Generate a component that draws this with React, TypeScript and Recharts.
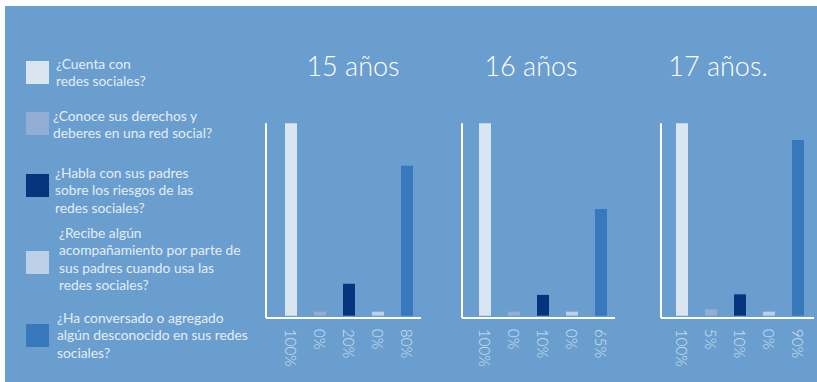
import React from 'react';
import { BarChart, Bar, XAxis, YAxis, Cell } from 'recharts';

const questions = [
  '¿Cuenta con redes sociales?',
  '¿Conoce sus derechos y deberes en una red social?',
  '¿Habla con sus padres sobre los riesgos de las redes sociales?',
  '¿Recibe algún acompañamiento por parte de sus padres cuando usa las redes sociales?',
  '¿Ha conversado o agregado algún desconocido en sus redes sociales?',
];
const legendLines = [
  ['¿Cuenta con', 'redes sociales?'],
  ['¿Conoce sus derechos y', 'deberes en una red social?'],
  ['¿Habla con sus padres', 'sobre los riesgos de las', 'redes sociales?'],
  ['¿Recibe algún', 'acompañamiento por parte de', 'sus padres cuando usa las', 'redes sociales?'],
  ['¿Ha conversado o agregado', 'algún desconocido en sus redes', 'sociales?'],
];
const colors = ['#D9E6F2', '#92AED4', '#04357D', '#BCD0E8', '#3779BC'];

const panelTitles = ['15 años', '16 años', '17 años.'];
const labels15 = ['100%', '0%', '20%', '0%', '80%'];
const labels16 = ['100%', '0%', '10%', '0%', '65%'];
const labels17 = ['100%', '5%', '10%', '0%', '90%'];
// bar heights
const values15 = [100, 2.1, 16.6, 2.1, 78];
const values16 = [100, 2.1, 10.8, 2.1, 55.5];
const values17 = [100, 3.3, 11.1, 2.1, 91.3];

const BG = '#6A9ECE';
const TEXT = '#E4EDF7';
const FONT = 'Lato, "Open Sans", sans-serif';

const makeTick = (labels: string[]) => (props: any) => {
  const { x, y, payload } = props;
  const ty = y + 11;
  return (
    <text
      x={x}
      y={ty}
      transform={`rotate(90 ${x} ${ty})`}
      textAnchor="start"
      dominantBaseline="central"
      fill="#D6E3F1"
      fontFamily={FONT}
      fontWeight={300}
      fontSize={15}
    >
      {labels[payload.index]}
    </text>
  );
};

type PanelProps = {
  left: number;
  marginLeft: number;
  plotWidth: number;
  padLeft: number;
  padRight: number;
  values: number[];
  labels: string[];
};

function Panel({ left, marginLeft, plotWidth, padLeft, padRight, values, labels }: PanelProps) {
  const data = questions.map((q, i) => ({ q, v: values[i] }));
  return (
    <div style={{ position: 'absolute', left, top: 100 }}>
      <BarChart
        width={marginLeft + plotWidth}
        height={278}
        data={data}
        margin={{ top: 23.3, right: 0, bottom: 0, left: marginLeft - 4 }}
      >
        <YAxis
          type="number"
          domain={[-1.2, 100]}
          width={4}
          tick={false}
          tickLine={false}
          axisLine={{ stroke: '#FFFFFF', strokeWidth: 2 }}
        />
        <XAxis
          dataKey="q"
          height={60}
          padding={{ left: padLeft, right: padRight }}
          tickLine={false}
          tickSize={0}
          tickMargin={0}
          interval={0}
          axisLine={{ stroke: '#FFFFFF', strokeWidth: 2 }}
          tick={makeTick(labels)}
        />
        <Bar dataKey="v" barSize={12} isAnimationActive={false}>
          {data.map((d, i) => (
            <Cell key={d.q} fill={colors[i]} />
          ))}
        </Bar>
      </BarChart>
    </div>
  );
}

const swatchTops = [61, 112, 174, 251, 324];
const textLefts = [56, 53, 55, 59, 57];
const firstLineCenters = [63, 115, 172, 232, 317];
const titleCenters = [353, 531, 718];

export default function App() {
  return (
    <div
      style={{
        position: 'fixed',
        left: 0,
        top: 0,
        width: 817,
        height: 382,
        background: '#FFFFFF',
        overflow: 'hidden',
      }}
    >
      <div style={{ position: 'absolute', left: 5, top: 6, width: 812, height: 376, background: BG }} />
      <svg width={817} height={382} style={{ position: 'absolute', left: 0, top: 0 }}>
        {legendLines.map((lines, i) => (
          <g key={i}>
            <rect x={26} y={swatchTops[i]} width={23} height={23} fill={colors[i]} />
            {lines.map((ln, j) => (
              <text
                key={j}
                x={textLefts[i]}
                y={firstLineCenters[i] + j * 17.6}
                dominantBaseline="central"
                fill={TEXT}
                fontFamily={FONT}
                fontSize={13.8}
              >
                {ln}
              </text>
            ))}
          </g>
        ))}
        {panelTitles.map((t, i) => (
          <text
            key={t}
            x={titleCenters[i]}
            y={76}
            textAnchor="middle"
            fill="#FFFFFF"
            fontFamily={FONT}
            fontWeight={300}
            fontSize={27}
          >
            {t}
          </text>
        ))}
      </svg>
      <Panel left={250} marginLeft={16} plotWidth={155} padLeft={10} padRight={0} values={values15} labels={labels15} />
      <Panel left={450} marginLeft={12} plotWidth={153} padLeft={8} padRight={0} values={values16} labels={labels16} />
      <Panel left={640} marginLeft={21} plotWidth={153} padLeft={6} padRight={2} values={values17} labels={labels17} />
    </div>
  );
}
